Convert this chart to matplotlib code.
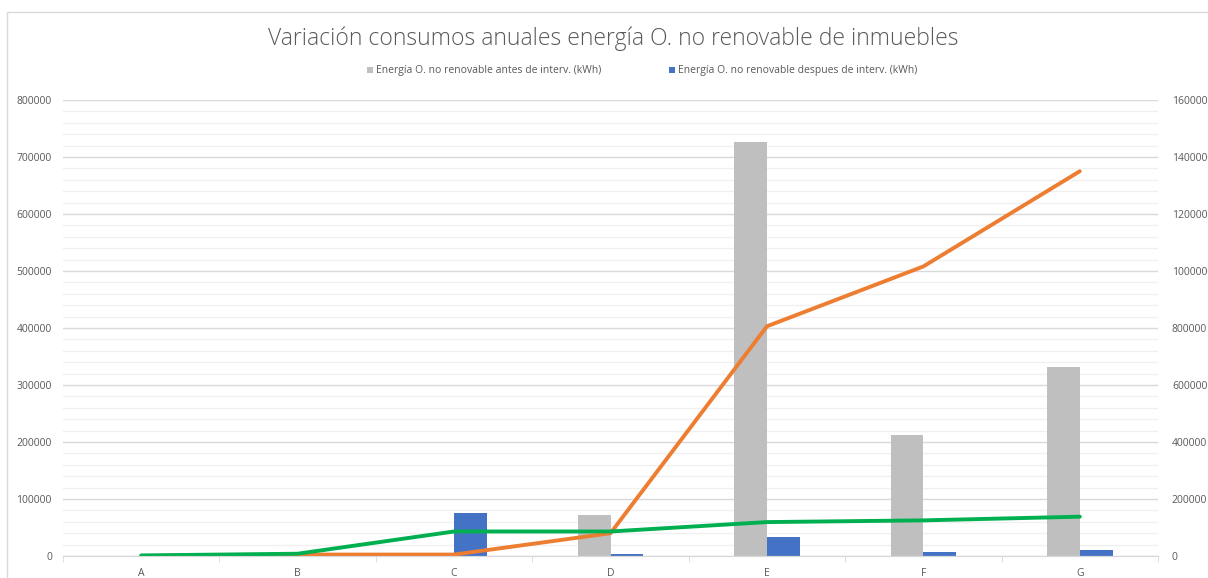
import matplotlib.pyplot as plt
from matplotlib.patches import Rectangle
from matplotlib.ticker import MultipleLocator, FuncFormatter
import numpy as np

# Datos
categorias = ['A', 'B', 'C', 'D', 'E', 'F', 'G']
antes = [0, 0, 0, 72000, 727000, 212000, 332000]
despues = [0, 0, 76000, 3000, 33000, 7000, 10000]
linea_naranja = [0, 5000, 5000, 80000, 806000, 1016000, 1350000]
linea_verde = [2000, 8000, 86000, 86000, 119000, 125000, 138000]

plt.rcParams['font.family'] = ['Open Sans', 'DejaVu Sans']

fig = plt.figure(figsize=(12.08, 5.78), dpi=100)
fig.patches.append(Rectangle((7 / 1208, -0.1), 1.2, (566 + 0.1 * 578) / 578,
                             transform=fig.transFigure, fill=False,
                             edgecolor='#d9d9d9', linewidth=1))

ax = fig.add_axes([63 / 1208, 22 / 578, 1095 / 1208, 456 / 578])
ax2 = ax.twinx()

x = np.arange(len(categorias))
w = 0.21
ax.bar(x - w / 2, antes, w, color='#bfbfbf', label='Energía O. no renovable antes de interv. (kWh)', zorder=2)
ax.bar(x + w / 2, despues, w, color='#4472c4', label='Energía O. no renovable despues de interv. (kWh)', zorder=2)

ax2.plot(x, linea_naranja, color='#ed7d31', linewidth=2.8, solid_capstyle='round')
ax2.plot(x, linea_verde, color='#00b050', linewidth=2.8, solid_capstyle='round')

ax.set_xlim(-0.5, len(categorias) - 0.5)
ax.set_ylim(0, 800000)
ax2.set_ylim(0, 1600000)
ax.yaxis.set_major_locator(MultipleLocator(100000))
ax.yaxis.set_minor_locator(MultipleLocator(20000))
ax2.yaxis.set_major_locator(MultipleLocator(200000))
plano = FuncFormatter(lambda v, p: '%d' % v)
ax.yaxis.set_major_formatter(plano)
ax2.yaxis.set_major_formatter(plano)

ax.grid(which='major', axis='y', color='#d9d9d9', linewidth=1, zorder=0)
ax.grid(which='minor', axis='y', color='#f0f0f0', linewidth=1, zorder=0)
ax.set_axisbelow(True)

ax.set_xticks(x)
ax.set_xticklabels(categorias)
ax.set_xticks(np.arange(-0.5, len(categorias)), minor=True)
ax.tick_params(axis='x', which='major', length=0, labelsize=7.5, colors='#595959', pad=9)
ax.tick_params(axis='x', which='minor', length=4, color='#d9d9d9')
ax.tick_params(axis='y', which='both', length=0, labelsize=7.5, colors='#595959', pad=8)
ax2.tick_params(axis='y', length=0, labelsize=7.5, colors='#595959', pad=10)

for a in (ax, ax2):
    for s in ['top', 'left', 'right']:
        a.spines[s].set_visible(False)
    a.spines['bottom'].set_color('#d9d9d9')

fig.text(613 / 1208, 1 - 39 / 578, 'Variación consumos anuales energía O. no renovable de inmuebles',
         ha='center', va='center', fontsize=16.5, color='#595959', fontweight='light')
ax.legend(loc='center', bbox_to_anchor=(642 / 1208, 1 - 71 / 578), bbox_transform=fig.transFigure,
          ncol=2, frameon=False, fontsize=7.5, labelcolor='#595959', handlelength=0.6,
          handleheight=0.6, handletextpad=0.3, columnspacing=6.5)

fig.savefig('out.png', dpi=100)
